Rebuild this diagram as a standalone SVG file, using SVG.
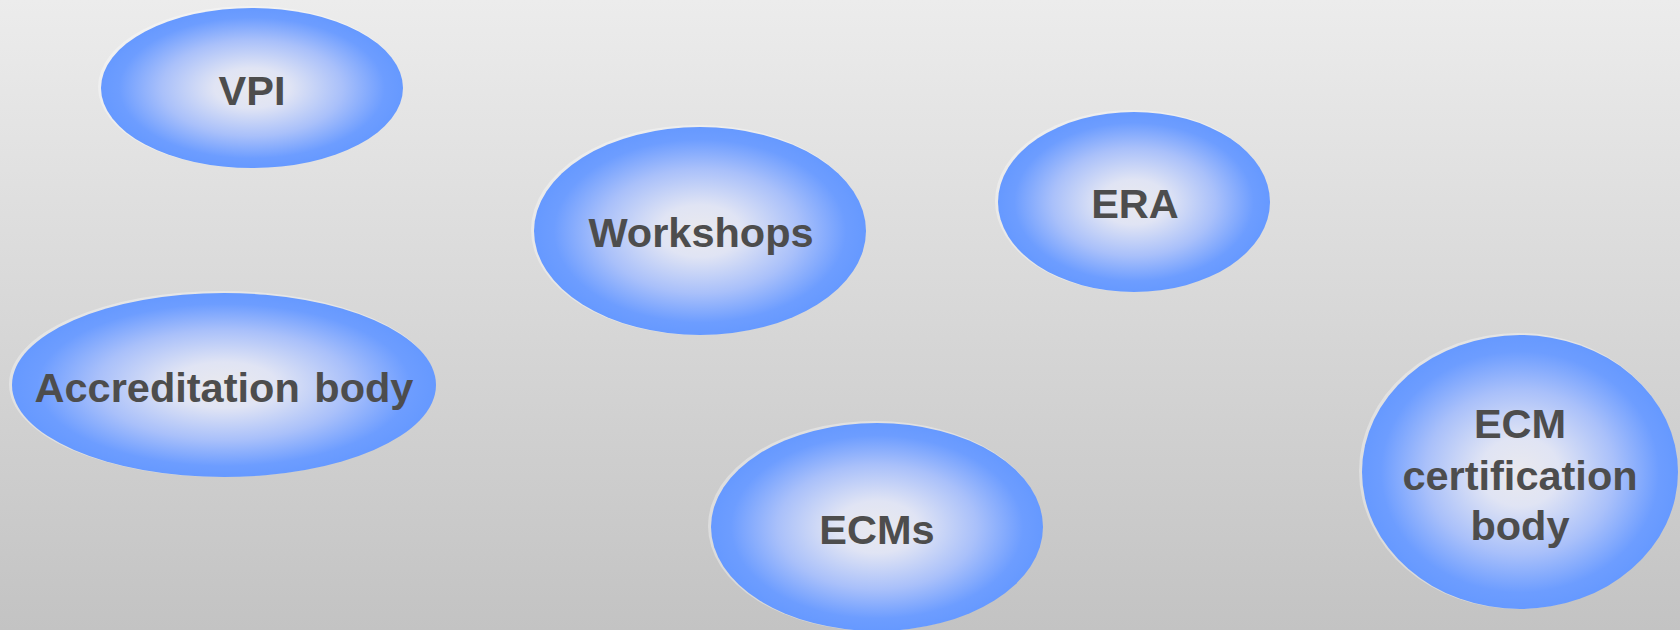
<svg xmlns="http://www.w3.org/2000/svg" width="1680" height="630" viewBox="0 0 1680 630">
<defs>
<linearGradient id="bg" x1="0" y1="0" x2="0" y2="1">
<stop offset="0" stop-color="#ececec"/>
<stop offset="1" stop-color="#c3c3c3"/>
</linearGradient>
<radialGradient id="blob" cx="0.5" cy="0.5" r="0.5">
<stop offset="0" stop-color="#e9e9ee"/>
<stop offset="0.25" stop-color="#e0e4f4"/>
<stop offset="0.6" stop-color="#a9c0fa"/>
<stop offset="0.88" stop-color="#6d9dff"/>
<stop offset="1" stop-color="#6699ff"/>
</radialGradient>
</defs>
<style>
.halo{fill:#ffffff;fill-opacity:0.35}
.node{fill:url(#blob)}
.lbl{font-family:"Liberation Sans",Arial,sans-serif;font-weight:bold;font-size:41.5px;fill:#4d4d4d;text-anchor:middle}
</style>
<rect x="0" y="0" width="1680" height="630" fill="url(#bg)"/>
<g id="connectors"/>
<g id="vpi">
<ellipse class="halo" cx="250" cy="87" rx="152" ry="81"/>
<ellipse class="node" cx="252" cy="88" rx="151" ry="80"/>
<text class="lbl" x="252" y="105">VPI</text>
</g>
<g id="workshops">
<ellipse class="halo" cx="698" cy="230" rx="167" ry="105"/>
<ellipse class="node" cx="700" cy="231" rx="166" ry="104"/>
<text class="lbl" x="701" y="247">Workshops</text>
</g>
<g id="era">
<ellipse class="halo" cx="1132" cy="201" rx="137" ry="91"/>
<ellipse class="node" cx="1134" cy="202" rx="136" ry="90"/>
<text class="lbl" x="1135" y="218">ERA</text>
</g>
<g id="accreditation">
<ellipse class="halo" cx="222" cy="384" rx="213" ry="93"/>
<ellipse class="node" cx="224" cy="385" rx="212" ry="92"/>
<text class="lbl" x="224" y="402" word-spacing="3">Accreditation body</text>
</g>
<g id="ecms">
<ellipse class="halo" cx="875" cy="526" rx="167" ry="105"/>
<ellipse class="node" cx="877" cy="527" rx="166" ry="104"/>
<text class="lbl" x="877" y="544">ECMs</text>
</g>
<g id="ecm-cert">
<ellipse class="halo" cx="1518" cy="471" rx="159" ry="138"/>
<ellipse class="node" cx="1520" cy="472" rx="158" ry="137"/>
<text class="lbl" x="1520" y="438">ECM</text>
<text class="lbl" x="1520" y="490">certification</text>
<text class="lbl" x="1520" y="540">body</text>
</g>
</svg>
